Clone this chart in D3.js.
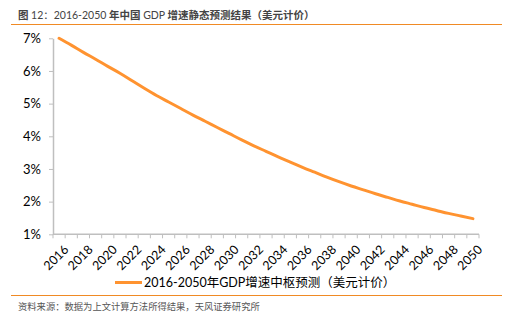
<!DOCTYPE html>
<html>
<head>
<meta charset="utf-8">
<script src="https://cdn.jsdelivr.net/npm/d3@7"></script>
<style>
  body { margin: 0; background: #fff; }
  svg { display: block; font-family: Lato, "Noto Sans CJK SC", sans-serif; }
</style>
</head>
<body>
<div id="chart"></div>
<script>
// DATA ######################################################
const years = d3.range(2016, 2051).map(String);
const growth = [
  7.00, 6.79, 6.57, 6.36, 6.14, 5.93, 5.70, 5.47, 5.25, 5.05,
  4.85, 4.65, 4.46, 4.27, 4.08, 3.89, 3.71, 3.54, 3.37, 3.21,
  3.05, 2.90, 2.75, 2.61, 2.48, 2.36, 2.24, 2.13, 2.02, 1.92,
  1.82, 1.73, 1.64, 1.56, 1.48
];
const yTicks = [1, 2, 3, 4, 5, 6, 7];
const seriesName = "2016-2050年GDP增速中枢预测（美元计价）";

// CONSTANTS #################################################
const width = 526, height = 325;
const orange = "#ff9330";
const axisGrey = "#bfbfbf";

const svg = d3.select("#chart").append("svg")
  .attr("width", width)
  .attr("height", height);

// SCALES ====================================================
const xScale = d3.scaleBand()
  .domain(years)
  .range([53, 479]);

const yScale = d3.scaleLinear()
  .domain([1, 7])
  .range([234.3, 38.3]);

// HEADER ----------------------------------------------------
const title = svg.append("text")
  .attr("x", 18)
  .attr("y", 19)
  .style("font-size", "10.5px")
  .style("fill", "#444");
title.append("tspan").style("font-weight", "bold").text("图 ");
title.append("tspan").text("12：2016-2050 ");
title.append("tspan").style("font-weight", "bold").text("年中国 ");
title.append("tspan").text("GDP ");
title.append("tspan").style("font-weight", "bold").text("增速静态预测结果（美元计价）");

svg.append("line")
  .attr("x1", 11).attr("x2", 502)
  .attr("y1", 24.5).attr("y2", 24.5)
  .attr("stroke", "#f08a24")
  .attr("stroke-width", 1);

// AXES ------------------------------------------------------
const yAxis = svg.append("g")
  .attr("transform", `translate(53,0)`)
  .call(d3.axisLeft(yScale).tickValues(yTicks).tickSize(4).tickSizeOuter(0)
    .tickFormat(d => d + "%"));
yAxis.select(".domain").attr("stroke", axisGrey).attr("stroke-width", 1.5);
yAxis.selectAll(".tick line").attr("stroke", axisGrey);
yAxis.selectAll(".tick text")
  .attr("x", -12)
  .style("font-size", "13px")
  .style("font-family", "Lato, sans-serif")
  .attr("fill", "#000");

const xAxis = svg.append("g")
  .attr("transform", `translate(0,234.3)`);
xAxis.append("line")
  .attr("x1", 53).attr("x2", 479)
  .attr("stroke", axisGrey)
  .attr("stroke-width", 1.5);
// ticks sit on category boundaries
xAxis.selectAll("line.tk")
  .data(years.concat(["end"]))
  .join("line")
  .attr("class", "tk")
  .attr("x1", (d, i) => 53 + i * xScale.step())
  .attr("x2", (d, i) => 53 + i * xScale.step())
  .attr("y1", 0).attr("y2", 4)
  .attr("stroke", axisGrey);
xAxis.selectAll("text")
  .data(years.filter((d, i) => i % 2 === 0))
  .join("text")
  .attr("text-anchor", "end")
  .attr("transform", d => `translate(${xScale(d) + xScale.bandwidth() / 2 + 4},${10}) rotate(-45)`)
  .attr("dy", "0.7em")
  .style("font-size", "12.5px")
  .style("fill", "#000")
  .text(d => d);

// LINE ------------------------------------------------------
const line = d3.line()
  .x((d, i) => xScale(years[i]) + xScale.bandwidth() / 2)
  .y(d => yScale(d))
  .curve(d3.curveMonotoneX);

svg.append("path")
  .datum(growth)
  .attr("d", line)
  .attr("fill", "none")
  .attr("stroke", orange)
  .attr("stroke-width", 3)
  .attr("stroke-linecap", "round");

// LEGEND ----------------------------------------------------
svg.append("line")
  .attr("x1", 115).attr("x2", 142)
  .attr("y1", 282.5).attr("y2", 282.5)
  .attr("stroke", orange)
  .attr("stroke-width", 3);
svg.append("text")
  .attr("x", 144)
  .attr("y", 287)
  .style("font-size", "12.5px")
  .style("fill", "#000")
  .text(seriesName);

// FOOTER ----------------------------------------------------
svg.append("line")
  .attr("x1", 11).attr("x2", 502)
  .attr("y1", 295.5).attr("y2", 295.5)
  .attr("stroke", "#f08a24")
  .attr("stroke-width", 1);
svg.append("text")
  .attr("x", 18)
  .attr("y", 310)
  .style("font-size", "9.3px")
  .style("fill", "#555")
  .style("font-family", "'Noto Sans CJK SC', sans-serif")
  .text("资料来源：数据为上文计算方法所得结果，天风证券研究所");
</script>
</body>
</html>
